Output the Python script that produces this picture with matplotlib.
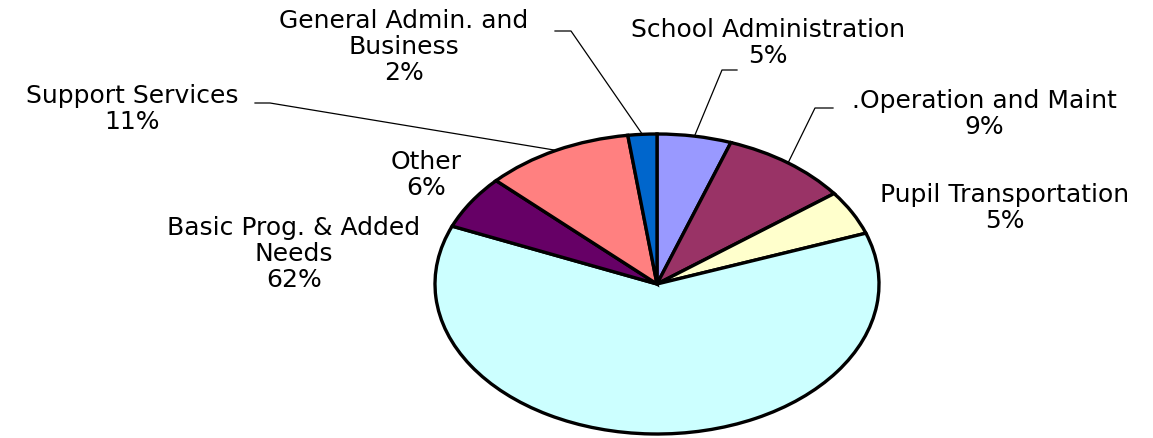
import numpy as np
import matplotlib
matplotlib.use("Agg")
import matplotlib.pyplot as plt

# ---------------------------
# Data (clockwise from 12 o'clock)
# ---------------------------
categories = [
    "School Administration",
    ".Operation and Maint",
    "Pupil Transportation",
    "Basic Prog. & Added\nNeeds",
    "Other",
    "Support Services",
    "General Admin. and\nBusiness",
]
shares = [5.4, 9.3, 4.8, 61.8, 5.8, 10.8, 2.1]
colors = ["#9999FF", "#993366", "#FFFFCC", "#CCFFFF", "#660066", "#FF8080", "#0066CC"]

# ---------------------------
# Layout (pixels in the 1153x439 image)
# ---------------------------
W, H = 1153, 439
CX, CY = 657, 285          # pie centre
RX, RY = 222, 150          # ellipse radii

# label block centres
label_pos = [(768, 43), (984, 114), (1005, 208), (294, 254),
             (426, 175), (132, 109), (404, 47)]
# leader lines: (start of short horizontal, bend point) or None
leaders = [((737, 71), (722, 71)),
           ((833, 109), (815, 109)),
           None, None, None,
           ((255, 104), (270, 104)),
           ((555, 32), (571, 32))]


def px(x, y):
    """pixel coords -> data coords of the unit pie"""
    return (x - CX) / RX, (CY - y) / RY


fig = plt.figure(figsize=(W / 100, H / 100), dpi=100)
ax = fig.add_axes([0, 0, 1, 1])

wedges, _ = ax.pie(shares, colors=colors, startangle=90, counterclock=False,
                   wedgeprops=dict(edgecolor="black", linewidth=2.4))

ax.set_aspect("auto")
ax.set_xlim(-CX / RX, (W - CX) / RX)
ax.set_ylim(-(H - CY) / RY, CY / RY)
ax.axis("off")

for w, name, val, (lx, ly), lead in zip(wedges, categories, shares, label_pos, leaders):
    tx, ty = px(lx, ly)
    ax.text(tx, ty, f"{name}\n{round(val):d}%", ha="center", va="center",
            fontsize=18, family="DejaVu Sans", linespacing=1.13, color="black")
    if lead is not None:
        mid = np.deg2rad((w.theta1 + w.theta2) / 2)
        x0, y0 = px(*lead[0])
        x1, y1 = px(*lead[1])
        ax.plot([x0, x1, np.cos(mid)], [y0, y1, np.sin(mid)],
                color="black", linewidth=0.9, zorder=0.5)

fig.savefig("out.png", dpi=100, facecolor="white")
